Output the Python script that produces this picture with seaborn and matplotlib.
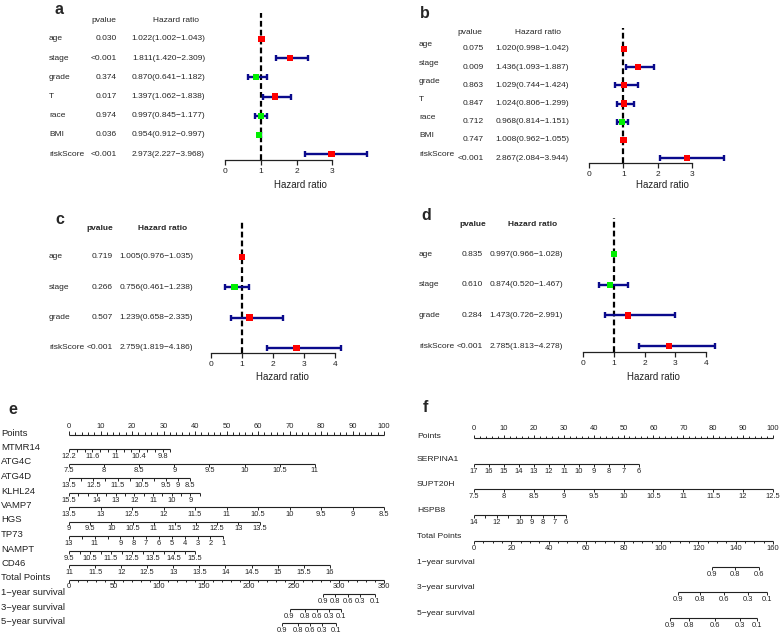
import numpy as np
import pandas as pd
import matplotlib
matplotlib.use('Agg')
import matplotlib.pyplot as plt
import matplotlib.transforms as mtransforms
import seaborn as sns

W, H = 784, 636

# ---------------- data: forest plots ----------------
a_vars = ['age', 'stage', 'grade', 'T', 'race', 'BMI', 'riskScore']
a_p = ['0.030', '<0.001', '0.374', '0.017', '0.974', '0.036', '<0.001']
a_hr = [1.022, 1.811, 0.870, 1.397, 0.997, 0.954, 2.973]
a_lo = [1.002, 1.420, 0.641, 1.062, 0.845, 0.912, 2.227]
a_hi = [1.043, 2.309, 1.182, 1.838, 1.177, 0.997, 3.968]

b_vars = ['age', 'stage', 'grade', 'T', 'race', 'BMI', 'riskScore']
b_p = ['0.075', '0.009', '0.863', '0.847', '0.712', '0.747', '<0.001']
b_hr = [1.020, 1.436, 1.029, 1.024, 0.968, 1.008, 2.867]
b_lo = [0.998, 1.093, 0.744, 0.806, 0.814, 0.962, 2.084]
b_hi = [1.042, 1.887, 1.424, 1.299, 1.151, 1.055, 3.944]

c_vars = ['age', 'stage', 'grade', 'riskScore']
c_p = ['0.719', '0.266', '0.507', '<0.001']
c_hr = [1.005, 0.756, 1.239, 2.759]
c_lo = [0.976, 0.461, 0.658, 1.819]
c_hi = [1.035, 1.238, 2.335, 4.186]

d_vars = ['age', 'stage', 'grade', 'riskScore']
d_p = ['0.835', '0.610', '0.284', '<0.001']
d_hr = [0.997, 0.874, 1.473, 2.785]
d_lo = [0.966, 0.520, 0.726, 1.813]
d_hi = [1.028, 1.467, 2.991, 4.278]

# ---------------- data: nomogram e ----------------
e_vars = ['MTMR14', 'ATG4C', 'ATG4D', 'KLHL24', 'VAMP7', 'HGS', 'TP73', 'NAMPT', 'CD46']
e_v0 = [12.2, 7.5, 13.5, 15.5, 13.5, 9.0, 13, 9.5, 11.0]      # value at 0 points
e_v1 = [9.6, 11.0, 8.5, 8.5, 8.5, 13.5, 1, 15.5, 16.0]        # value at end of scale
e_p1 = [32.2, 78.0, 38.5, 41.5, 100.0, 60.5, 49.0, 40.0, 82.8]  # points at end of scale
e_step = [0.2, 0.5, 0.5, 0.5, 0.5, 0.5, 1, 0.5, 0.5]
e_labels = [
    [12.2, 11.6, 11, 10.4, 9.8],
    [7.5, 8, 8.5, 9, 9.5, 10, 10.5, 11],
    [13.5, 12.5, 11.5, 10.5, 9.5, 9, 8.5],
    [15.5, 14, 13, 12, 11, 10, 9],
    [13.5, 13, 12.5, 12, 11.5, 11, 10.5, 10, 9.5, 9, 8.5],
    [9, 9.5, 10, 10.5, 11, 11.5, 12, 12.5, 13, 13.5],
    [13, 11, 9, 8, 7, 6, 5, 4, 3, 2, 1],
    [9.5, 10.5, 11.5, 12.5, 13.5, 14.5, 15.5],
    [11, 11.5, 12, 12.5, 13, 13.5, 14, 14.5, 15, 15.5, 16],
]
e_total_max = 350
e_surv_names = ['1\u2212year survival', '3\u2212year survival', '5\u2212year survival']
e_surv_labels = ['0.9', '0.8', '0.6', '0.3', '0.1']
e_surv_tp = [
    [282, 296, 310, 323, 340],
    [245, 262, 275, 289, 302],
    [237, 254, 268, 281, 297],
]

# ---------------- data: nomogram f ----------------
f_vars = ['SERPINA1', 'SUPT20H', 'HSPB8']
f_v0 = [17, 7.5, 14]
f_v1 = [6, 12.5, 6]
f_p1 = [55.2, 100.0, 30.7]
f_step = [1, 0.5, 1]
f_labels = [
    [17, 16, 15, 14, 13, 12, 11, 10, 9, 8, 7, 6],
    [7.5, 8, 8.5, 9, 9.5, 10, 10.5, 11, 11.5, 12, 12.5],
    [14, 12, 10, 9, 8, 7, 6],
]
f_total_max = 160
f_surv_names = ['1\u2212year survival', '3\u2212year survival', '5\u2212year survival']
f_surv_labels = [['0.9', '0.8', '0.6'], ['0.9', '0.8', '0.6', '0.3', '0.1'], ['0.9', '0.8', '0.6', '0.3', '0.1']]
f_surv_tp = [
    [127.6, 139.8, 152.6],
    [109.0, 120.7, 134.0, 146.7, 156.8],
    [104.7, 115.3, 129.2, 142.5, 151.5],
]

# ---------------- style ----------------
sns.set_theme(style='white')
plt.rcParams['font.family'] = ['Liberation Sans', 'DejaVu Sans']
plt.rcParams['axes.unicode_minus'] = True

fig = plt.figure(figsize=(W / 100, H / 100), dpi=100)
fig.patch.set_facecolor('white')
LINE = '#222222'


def rect(x0, y0, x1, y1):
    return [x0 / W, 1 - y1 / H, (x1 - x0) / W, (y1 - y0) / H]


def fmt(v):
    return f'{v:g}'


def forest(vars_, pv, hr, lo, hi, x0, u, top, bottom, row0, dy, label_x, p_right,
           hr_right, hdr_y, hdr_p, hdr_hr, bold, letter, letter_xy, label_dy,
           nticks, xl_x, xl_y):
    n = len(vars_)
    xmax = max(hi) + 0.08
    ax = fig.add_axes(rect(x0, top, x0 + xmax * u, bottom))
    df = pd.DataFrame({'var': vars_, 'hr': hr, 'lo': lo, 'hi': hi, 'row': np.arange(n),
                       'dir': ['up' if h > 1 else 'down' for h in hr]})
    ax.axvline(1, color='black', lw=1.6, ls=(0, (2.6, 1.4)), zorder=1)
    ax.errorbar(df['hr'], df['row'], xerr=[df['hr'] - df['lo'], df['hi'] - df['hr']],
                fmt='none', ecolor='#0a0a8c', elinewidth=1.7, capsize=2.4, capthick=1.7, zorder=2)
    sns.scatterplot(data=df, x='hr', y='row', hue='dir',
                    palette={'up': '#FF0000', 'down': '#00EE00'}, marker='s', s=20,
                    linewidth=0, legend=False, ax=ax, zorder=3)
    ax.set_xlim(0, xmax)
    ax.set_ylim((bottom - row0) / dy, (top - row0) / dy)
    ax.set_xticks(list(range(nticks + 1)))
    ax.set_yticks([])
    ax.set_ylabel('')
    ax.tick_params(axis='x', bottom=True, length=3.5, width=0.9, pad=2, labelsize=6,
                   color=LINE, labelcolor='#222222')
    for s in ['top', 'right', 'left']:
        ax.spines[s].set_visible(False)
    ax.spines['bottom'].set_bounds(0, nticks)
    ax.spines['bottom'].set_color(LINE)
    ax.spines['bottom'].set_linewidth(0.9)
    ax.set_facecolor('none')
    ax.set_xlabel('Hazard ratio', fontsize=7, color='#222222')
    ax.xaxis.set_label_coords((xl_x - x0) / (xmax * u), (bottom - xl_y) / (bottom - top))
    ax.xaxis.label.set_va('center')
    tr = mtransforms.blended_transform_factory(fig.transFigure, ax.transData)
    fw = 'bold' if bold else 'normal'
    hy = (hdr_y - row0) / dy
    ax.text(hdr_p / W, hy, 'pvalue', transform=tr, ha='center', va='center', fontsize=6,
            fontweight=fw, clip_on=False)
    ax.text(hdr_hr / W, hy, 'Hazard ratio', transform=tr, ha='center', va='center', fontsize=6,
            fontweight=fw, clip_on=False)
    for i in range(n):
        ax.text(label_x / W, i + label_dy / dy, vars_[i], transform=tr, ha='left', va='center',
                fontsize=6, clip_on=False)
        ax.text(p_right / W, i, pv[i], transform=tr, ha='right', va='center', fontsize=6,
                clip_on=False)
        txt = f'{hr[i]:.3f}({lo[i]:.3f}\u2212{hi[i]:.3f})'
        ax.text(hr_right / W, i, txt, transform=tr, ha='right', va='center', fontsize=6,
                clip_on=False)
    fig.text(letter_xy[0] / W, 1 - letter_xy[1] / H, letter, fontsize=11.5, fontweight='bold',
             ha='left', va='center')


forest(a_vars, a_p, a_hr, a_lo, a_hi, x0=225, u=35.8, top=13, bottom=160, row0=39, dy=19.17,
       label_x=49, p_right=117, hr_right=205, hdr_y=20, hdr_p=104, hdr_hr=176, bold=False,
       letter='a', letter_xy=(55, 10), label_dy=0, nticks=3, xl_x=300, xl_y=185)
forest(b_vars, b_p, b_hr, b_lo, b_hi, x0=589, u=34.3, top=28, bottom=163, row0=49, dy=18.17,
       label_x=419, p_right=484, hr_right=569, hdr_y=32, hdr_p=470, hdr_hr=538, bold=False,
       letter='b', letter_xy=(420, 13), label_dy=-4, nticks=3, xl_x=662, xl_y=185)
forest(c_vars, c_p, c_hr, c_lo, c_hi, x0=211, u=31.0, top=220, bottom=353, row0=257, dy=30.3,
       label_x=49, p_right=113, hr_right=193, hdr_y=228, hdr_p=100, hdr_hr=163, bold=True,
       letter='c', letter_xy=(55, 220), label_dy=0, nticks=4, xl_x=282, xl_y=377)
forest(d_vars, d_p, d_hr, d_lo, d_hi, x0=583, u=30.8, top=218, bottom=352, row0=254, dy=30.7,
       label_x=419, p_right=483, hr_right=563, hdr_y=225, hdr_p=473, hdr_hr=533, bold=True,
       letter='d', letter_xy=(421, 215), label_dy=0, nticks=4, xl_x=653, xl_y=377)


# ---------------- nomograms ----------------
def nomo_axes(x_left, x_right, top, bottom, line0, step):
    ax = fig.add_axes(rect(x_left, top, x_right, bottom))
    ax.set_xlim(0, 100)
    ax.set_ylim((bottom - line0) / step, (top - line0) / step)
    ax.axis('off')
    return ax


def draw_scale(ax, r, step, line_rng, major_pts, major_labels, minor_pts, up, fs,
               num_off=7.5, maj_len=3.0, min_len=3.0):
    sgn = -1 if up else 1
    ax.plot(line_rng, [r, r], color=LINE, lw=0.8, solid_capstyle='butt', clip_on=False)
    if len(minor_pts):
        ax.vlines(minor_pts, r, r + sgn * min_len / step, color=LINE, lw=0.7, clip_on=False)
    ax.vlines(major_pts, r, r + sgn * maj_len / step, color=LINE, lw=0.7, clip_on=False)
    for p, lab in zip(major_pts, major_labels):
        ax.text(p, r + sgn * num_off / step, lab, ha='center', va='center', fontsize=fs,
                color='#222222', clip_on=False)


def var_scale(ax, r, step, v0, v1, p1, vstep, labels, fs):
    def pts(v):
        return (v - v0) / (v1 - v0) * p1
    nstep = int(round(abs(v1 - v0) / vstep))
    ticks = [v0 + np.sign(v1 - v0) * vstep * k for k in range(nstep + 1)]
    lab_set = [round(l, 4) for l in labels]
    minor = [pts(t) for t in ticks if round(t, 4) not in lab_set]
    draw_scale(ax, r, step, [0, p1], [pts(l) for l in labels], [fmt(l) for l in labels],
               minor, up=False, fs=fs)


def row_label(ax, x_px, r, text, fs):
    tr = mtransforms.blended_transform_factory(fig.transFigure, ax.transData)
    ax.text(x_px / W, r, text, transform=tr, ha='left', va='center', fontsize=fs,
            color='#222222', clip_on=False)


# ---- panel e ----
e_step_px = 14.5
axe = nomo_axes(69, 384, 418, 636, 434.5, e_step_px)
fs_lab_e, fs_num_e = 6.8, 5.4
row_label(axe, 1, 0 - 1.5 / e_step_px, 'Points', fs_lab_e)
pmaj = list(range(0, 101, 10))
pmin = [v for v in range(0, 101, 2) if v % 10]
draw_scale(axe, 0, e_step_px, [0, 100], pmaj, [str(v) for v in pmaj], pmin, up=True,
           fs=fs_num_e, num_off=8, maj_len=3.5, min_len=2.2)
for i, name in enumerate(e_vars):
    r = i + 1
    row_label(axe, 1, r - 1.5 / e_step_px, name, fs_lab_e)
    var_scale(axe, r, e_step_px, e_v0[i], e_v1[i], e_p1[i], e_step[i], e_labels[i], fs_num_e)
r_tot = len(e_vars) + 1
row_label(axe, 1, r_tot - 1.5 / e_step_px, 'Total Points', fs_lab_e)
tmaj = list(range(0, e_total_max + 1, 50))
tmin = [v for v in range(0, e_total_max + 1, 10) if v % 50]
draw_scale(axe, r_tot, e_step_px, [0, 100], [v * 100 / e_total_max for v in tmaj],
           [str(v) for v in tmaj], [v * 100 / e_total_max for v in tmin], up=False,
           fs=fs_num_e, maj_len=3.2, min_len=2.2)
for k, name in enumerate(e_surv_names):
    r = r_tot + 1 + k
    row_label(axe, 1, r - 1.5 / e_step_px, name, fs_lab_e)
    p = [v * 100 / e_total_max for v in e_surv_tp[k]]
    draw_scale(axe, r, e_step_px, [p[0], p[-1]], p, e_surv_labels, [], up=False, fs=fs_num_e)
fig.text(8 / W, 1 - 409 / H, 'e', fontsize=11.5, fontweight='bold', ha='left', va='center')

# ---- panel f ----
f_step_px = 25.7
axf = nomo_axes(474, 773, 420, 636, 438, f_step_px)
fs_lab_f, fs_num_f = 6.1, 5.4
row_label(axf, 417, 0 - 1 / f_step_px, 'Points', fs_lab_f)
draw_scale(axf, 0, f_step_px, [0, 100], pmaj, [str(v) for v in pmaj], pmin, up=True,
           fs=fs_num_f, num_off=9, maj_len=3.5, min_len=2.2)
for i, name in enumerate(f_vars):
    r = i + 1
    row_label(axf, 417, r - 4.5 / f_step_px, name, fs_lab_f)
    var_scale(axf, r, f_step_px, f_v0[i], f_v1[i], f_p1[i], f_step[i], f_labels[i], fs_num_f)
r_tot = len(f_vars) + 1
row_label(axf, 417, r_tot - 4.5 / f_step_px, 'Total Points', fs_lab_f)
tmaj = list(range(0, f_total_max + 1, 20))
tmin = [v for v in range(0, f_total_max + 1, 5) if v % 20]
draw_scale(axf, r_tot, f_step_px, [0, 100], [v * 100 / f_total_max for v in tmaj],
           [str(v) for v in tmaj], [v * 100 / f_total_max for v in tmin], up=False,
           fs=fs_num_f, maj_len=3.2, min_len=2.2)
for k, name in enumerate(f_surv_names):
    r = r_tot + 1 + k
    row_label(axf, 417, r - 4.5 / f_step_px, name, fs_lab_f)
    p = [v * 100 / f_total_max for v in f_surv_tp[k]]
    draw_scale(axf, r, f_step_px, [p[0], p[-1]], p, f_surv_labels[k], [], up=False, fs=fs_num_f)
fig.text(423 / W, 1 - 408 / H, 'f', fontsize=11.5, fontweight='bold', ha='left', va='center')

fig.savefig('out.png', dpi=100, facecolor='white')
